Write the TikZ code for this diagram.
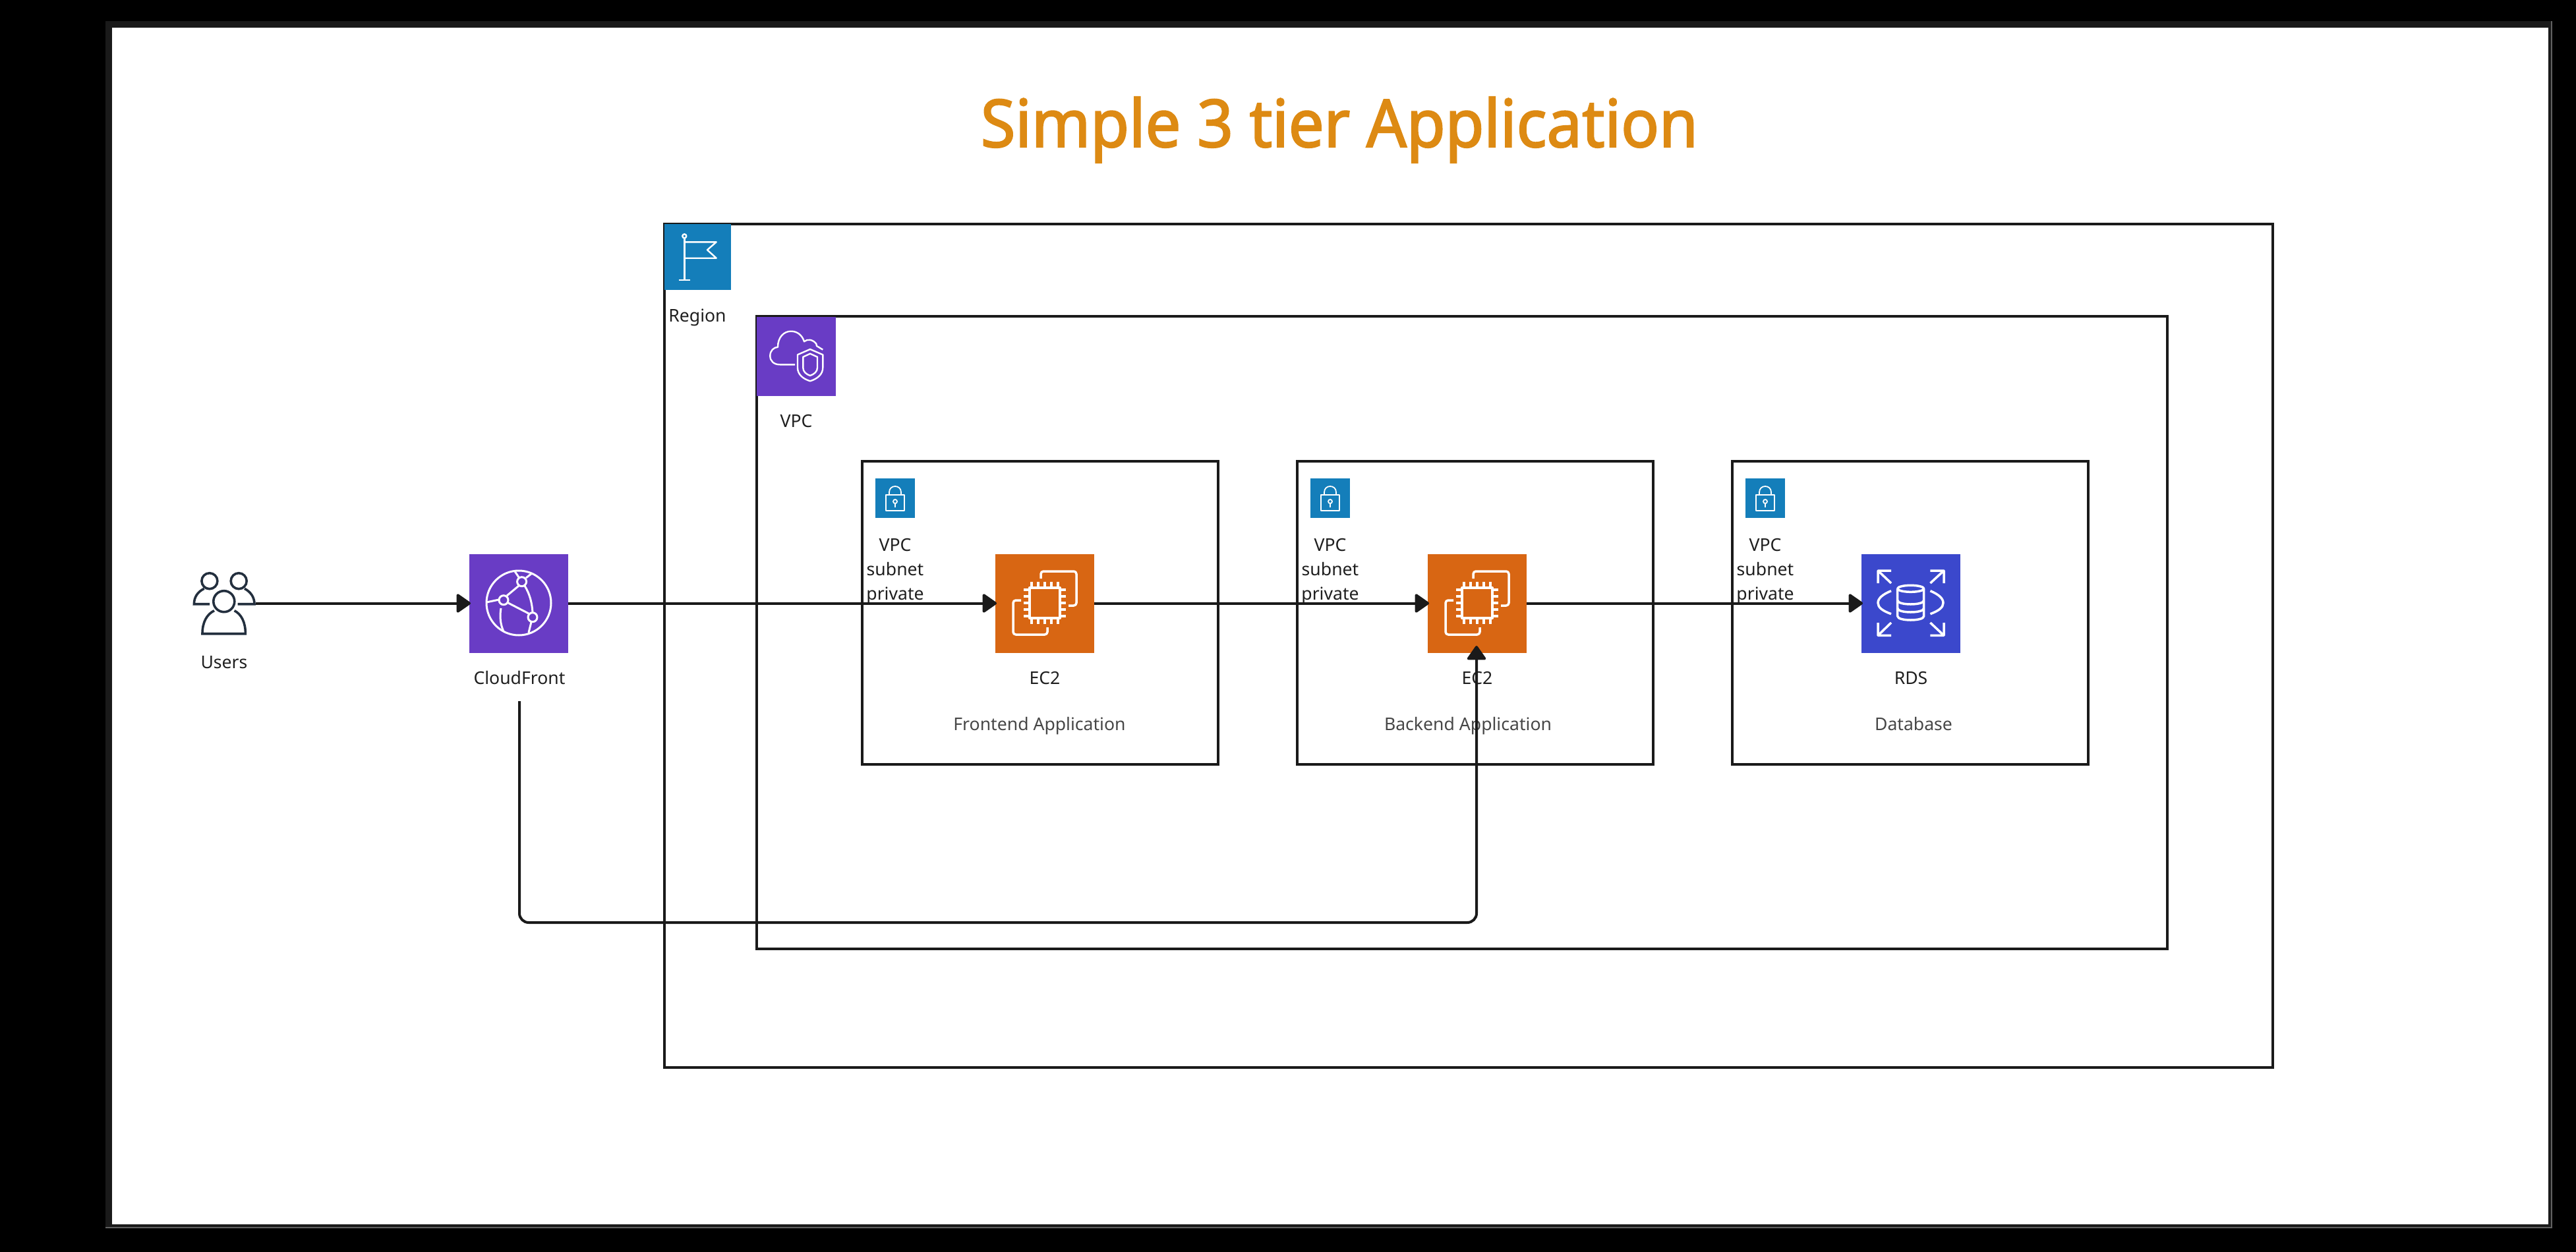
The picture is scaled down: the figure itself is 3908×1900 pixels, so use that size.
\documentclass[tikz,border=0pt]{standalone}
\usepackage{fontspec}
\setmainfont{Noto Sans}
\newfontfamily\titlefont[FakeBold=2.2,FakeStretch=0.955]{Noto Sans}
\usetikzlibrary{arrows.meta}
\definecolor{regionblue}{RGB}{20,126,186}
\definecolor{netpurple}{RGB}{105,60,197}
\definecolor{computeorange}{RGB}{216,102,19}
\definecolor{dbblue}{RGB}{59,72,204}
\definecolor{titleorange}{RGB}{221,138,19}
\definecolor{lineblack}{RGB}{26,26,26}
\definecolor{usersink}{RGB}{35,47,62}
\tikzset{
  box/.style 2 args={draw=lineblack, line width=2pt, fill=white, inner sep=0, outer sep=0, minimum width=#1*0.5pt, minimum height=#2*0.5pt},
  icon/.style 2 args={fill=#2, inner sep=0, outer sep=0, minimum size=#1*0.5pt},
  label/.style={anchor=base, text=black!88, font=\fontsize{13.3}{18.3}\selectfont, inner sep=0},
  caption/.style={label, text=black!72},
  conn/.style={draw=lineblack, line width=2pt, shorten >=-1pt, -{Triangle[length=11.5pt,width=15.5pt,round]}},
  glyph/.style={draw=white, line width=#1*0.5pt, line join=round}, glyph/.default=3.5
}
\begin{document}
\begin{tikzpicture}[x=0.5pt,y=-0.5pt]
    \useasboundingbox (0,0) rectangle (3908,1900);
    \fill[black] (0,0) rectangle (3908,1900);
    \fill[black!62] (160,32) rectangle (3872,1864);
    \fill[lineblack] (160,32) rectangle (3870,1862);
    \fill[white] (170,42) rectangle (3866,1858);

    \node[anchor=base, text=titleorange, font=\titlefont\fontsize{50}{60}\selectfont, inner sep=0] (title) at (2032,223) {Simple 3 tier Application};

    % containers
    \node[box={2440}{1280}] (region) at (2228,980) {};
    \node[box={2140}{960}] (vpc) at (2218,960) {};
    \node[box={540}{460}] (subfront) at (1578,930) {};
    \node[box={540}{460}] (subback) at (2238,930) {};
    \node[box={540}{460}] (subdb) at (2898,930) {};

    % region flag
    \node[icon={101}{regionblue}, minimum height=50pt] (regionicon) at (1058.5,390) {};
    \begin{scope}[shift={(1008,340)}]
        \draw[glyph=2.4] (30.3,21) -- (30.3,85) (22,85) -- (38.7,85);
        \draw[glyph=2.4] (30.3,18.3) circle (3);
        \draw[glyph=2.4] (30.3,27.3) -- (78.7,27.3) -- (65,39.3) -- (78.7,51.7) -- (30.3,51.7);
    \end{scope}
    \node[label] (regionlabel) at (1058,488) {Region};

    % vpc cloud and shield
    \node[icon={120}{netpurple}] (vpcicon) at (1208,540.5) {};
    \begin{scope}[shift={(1148,480)}]
        \draw[glyph=2.4] (58,73.3) -- (35.3,73.3) .. controls (26,73.3) and (20.3,68) .. (20.3,60)
            .. controls (20.3,52) and (26,47) .. (32,46.7) .. controls (32,32) and (41,22.7) .. (52,22.7)
            .. controls (62,22.7) and (69,29) .. (72,38.3) .. controls (77,34) and (85,35) .. (90.3,41.7)
            -- (91,45) -- (100.3,50.7);
        \draw[glyph=2.4] (81,50) -- (100.3,58.3) -- (100.3,78) .. controls (100.3,88) and (92,95) .. (81,98.3)
            .. controls (70,95) and (62,88) .. (62,78) -- (62,58.3) -- cycle;
        \draw[glyph=2.4] (81,56.7) -- (92,61.7) -- (92,78) .. controls (92,84) and (87,88) .. (81,90)
            .. controls (75,88) and (70.3,84) .. (70.3,78) -- (70.3,61.7) -- cycle;
    \end{scope}
    \node[label] (vpclabel) at (1208,648) {VPC};

    % subnet locks, labels
    \foreach \n/\x in {front/1328,back/1988,db/2648} {
        \node[icon={60}{regionblue}, anchor=north west] (lock\n) at (\x,726) {};
        \begin{scope}[shift={(\x,726)}]
            \draw[glyph=1.8] (16,25) rectangle (44,49);
            \draw[glyph=1.8] (21,25) -- (21,21) .. controls (21,9) and (39,9) .. (39,21) -- (39,25);
            \draw[glyph=1.8] (30,35) circle (3);
            \draw[glyph=1.8] (30,38) -- (30,44);
        \end{scope}
        \node[label, align=center, anchor=center] (sublabel\n) at (\x+30,867) {VPC\\subnet\\private};
    }

    % users
    \node[inner sep=0, minimum width=47.5pt, minimum height=47pt] (users) at (340.5,915.5) {};
    \begin{scope}[draw=usersink, line width=1.8pt]
        \draw (317.9,881.7) circle (12);
        \draw (362.2,881.7) circle (12);
        \draw (339.8,912.7) circle (16);
        \draw (309.7,893.3) .. controls (300,898) and (294.4,906) .. (294.4,916.7) -- (318,916.7);
        \draw (371,893.3) .. controls (380,898) and (386,906) .. (386,916.7) -- (360.7,916.7);
        \draw (325,926.7) .. controls (314,932) and (307,944) .. (307,961.7) -- (372.4,961.7) .. controls (372.4,944) and (366,932) .. (355.6,926.7);
    \end{scope}
    \node[label] (userslabel) at (340,1014) {Users};

    % cloudfront
    \node[icon={150}{netpurple}] (cloudfront) at (787,915.5) {};
    \begin{scope}[shift={(712,840)}]
        \draw[glyph=3] (75,75) circle (49);
        \foreach \a/\b in {79.6/42.7,52/70.7,96/96.7}
            \draw[glyph=3] (\a,\b) circle (7);
        \draw[glyph=3] (75,49) -- (57,64);
        \draw[glyph=3] (59,75) -- (90,91);
        \draw[glyph=3] (84,49) .. controls (92,62) and (95,75) .. (96,89);
        \draw[glyph=3] (45,70) -- (26,74);
        \draw[glyph=3] (48,83) .. controls (46,95) and (47,107) .. (51.5,117);
        \draw[glyph=3] (75,36) -- (69,27);
        \draw[glyph=3] (86,37) -- (95,30);
        \draw[glyph=3] (94,104) -- (90,120);
    \end{scope}
    \node[label] (cflabel) at (788,1038) {CloudFront};

    % ec2 frontend, backend
    \foreach \n/\x in {front/1510,back/2166} {
        \node[icon={150}{computeorange}, anchor=north west] (ec\n) at (\x,840.5) {};
        \begin{scope}[shift={(\x,840)}]
            \draw[glyph, rounded corners=2pt] (69,38) -- (69,27) -- (123,27) -- (123,79) -- (111,79);
            \draw[glyph, rounded corners=2pt] (39,71) -- (27,71) -- (27,123) -- (79,123) -- (79,112);
            \draw[glyph=4] (52,52) rectangle (98,98);
            \foreach \p in {55,65,75,85,95} {
                \draw[glyph] (\p,43) -- (\p,52) (\p,98) -- (\p,107);
                \draw[glyph] (43,\p) -- (52,\p) (98,\p) -- (107,\p);
            }
        \end{scope}
        \node[label] (eclabel\n) at (\x+75,1038) {EC2};
    }
    \node[caption] (frontcaption) at (1577,1108) {Frontend Application};
    \node[caption] (backcaption) at (2227,1108) {Backend Application};

    % rds
    \node[icon={150}{dbblue}, anchor=north west] (rds) at (2824,840.5) {};
    \begin{scope}[shift={(2824,840)}]
        \draw[glyph] (74.7,53.3) ellipse (20 and 5);
        \draw[glyph] (54.7,53.3) -- (54.7,95) .. controls (54.7,103) and (94.7,103) .. (94.7,95) -- (94.7,53.3);
        \draw[glyph] (54.7,71) .. controls (54.7,79) and (94.7,79) .. (94.7,71);
        \draw[glyph] (54.7,83) .. controls (54.7,91) and (94.7,91) .. (94.7,83);
        \draw[glyph] (45,56.7) .. controls (32,62) and (25,68) .. (25,75) .. controls (25,82) and (32,87) .. (45,91.7);
        \draw[glyph] (104.4,56.7) .. controls (117,62) and (124,68) .. (124,75) .. controls (124,82) and (117,87) .. (104.4,91.7);
        \draw[glyph] (45,26) -- (25,26) -- (25,45) (25,26) -- (45,45);
        \draw[glyph] (104.4,26) -- (125,26) -- (125,45) (125,26) -- (104.4,45);
        \draw[glyph] (45,124.3) -- (25,124.3) -- (25,105) (25,124.3) -- (45,105);
        \draw[glyph] (104.4,124.3) -- (125,124.3) -- (125,105) (125,124.3) -- (104.4,105);
    \end{scope}
    \node[label] (rdslabel) at (2899,1038) {RDS};
    \node[caption] (dbcaption) at (2903,1108) {Database};

    % connectors
    \coordinate (cfdrop) at (788,1064);
    \coordinate (ecbackin) at (2240,982);
    \draw[conn] (users.east) -- (cloudfront.west);
    \draw[conn] (cloudfront.east) -- (ecfront.west);
    \draw[conn] (ecfront.east) -- (ecback.west);
    \draw[conn] (ecback.east) -- (rds.west);
    \draw[conn, rounded corners=7pt] (cfdrop) |- (2240,1400) -- (ecbackin);
\end{tikzpicture}
\end{document}
